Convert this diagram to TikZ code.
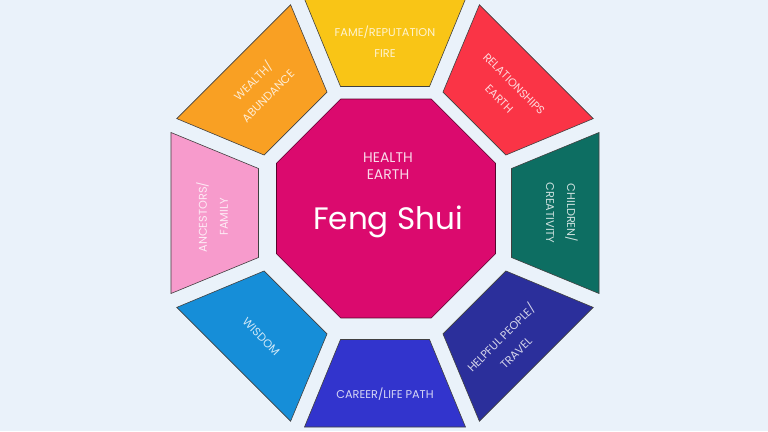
\documentclass[tikz,border=0pt]{standalone}
\usepackage{fontspec}
\setmainfont{Poppins}
\usetikzlibrary{shapes.geometric}

\definecolor{bgblue}{RGB}{234,242,250}
\definecolor{fameyellow}{RGB}{249,197,22}
\definecolor{relred}{RGB}{250,52,70}
\definecolor{childgreen}{RGB}{13,110,98}
\definecolor{helpnavy}{RGB}{43,47,155}
\definecolor{careerblue}{RGB}{50,52,205}
\definecolor{wisdomblue}{RGB}{22,142,216}
\definecolor{ancpink}{RGB}{247,155,204}
\definecolor{wealthorange}{RGB}{249,160,35}
\definecolor{fengmagenta}{RGB}{219,10,110}

\begin{document}
\begin{tikzpicture}[
  x=1pt,y=1pt,
  wedge/.style={draw=black!75,line width=0.6pt},
  lbl/.style={text=white,text opacity=0.8,align=center,inner sep=0pt,
    font=\fontsize{11.3}{21}\selectfont},
  core/.style={regular polygon,regular polygon sides=8,minimum size=237pt,
    inner sep=0pt,outer sep=0pt,draw=black!60!fengmagenta,line width=0.6pt,
    fill=fengmagenta}]
\fill[bgblue] (-385,-218) rectangle (383,213);
\useasboundingbox (-385,-218) rectangle (383,213);

% the eight outer areas
\foreach \a/\c in {90/fameyellow,45/relred,0/childgreen,-45/helpnavy,
    -90/careerblue,-135/wisdomblue,180/ancpink,135/wealthorange}
  \draw[wedge,fill=\c,rotate=\a]
    (126.5,-44.5) -- (214,-80.5) -- (214,80.5) -- (126.5,44.5) -- cycle;

% middle
\node[core] (core) at (1,4.5) {};
\node[lbl,text opacity=0.85,font=\fontsize{14}{17}\selectfont] (health)
  at (3,46.5) {HEALTH\\EARTH};
\node[lbl,text opacity=1,font=\fontsize{31}{36}\selectfont] (feng)
  at (3,-9) {Feng Shui};

% labels
\node[lbl] (fame) at (0,171.5) {FAME/REPUTATION\\FIRE};
\node[lbl,rotate=-45] (relations) at (45:172) {RELATIONSHIPS\\EARTH};
\node[lbl,rotate=-90] (children) at (177,0) {CHILDREN/\\CREATIVITY};
\node[lbl,rotate=45] (helpful) at (-47:180) {HELPFUL PEOPLE/\\TRAVEL};
\node[lbl] (career) at (0,-181) {CAREER/LIFE PATH};
\node[lbl,rotate=-45] (wisdom) at (-135:175) {WISDOM};
\node[lbl,rotate=90] (ancestors) at (-173,-4) {ANCESTORS/\\FAMILY};
\node[lbl,rotate=45] (wealth) at (135:177) {WEALTH/\\ABUNDANCE};
\end{tikzpicture}
\end{document}
